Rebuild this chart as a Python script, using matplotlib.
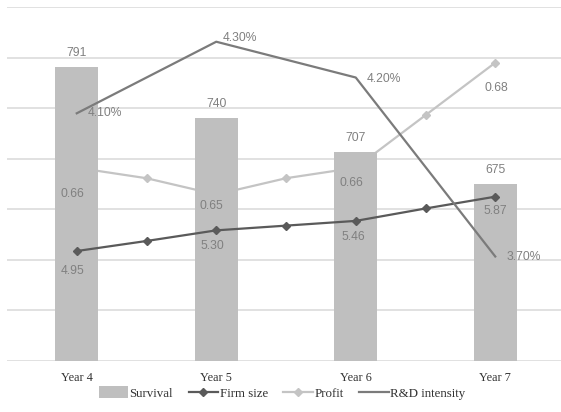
import numpy as np
import matplotlib
matplotlib.use("Agg")
from matplotlib import pyplot as plt

years = ["Year 4", "Year 5", "Year 6", "Year 7"]
survival = [791, 740, 707, 675]

# line series carry an extra point between each pair of years
firm_size = [4.95, 5.12, 5.30, 5.38, 5.46, 5.67, 5.87]
profit = [0.660, 0.658, 0.6549, 0.658, 0.660, 0.670, 0.680]
rd_intensity = [4.10, 4.30, 4.20, 3.70]

BAR = "#bfbfbf"
FIRM = "#5a5a5a"
PROF = "#c4c4c4"
RD = "#7b7b7b"
LABEL = "#808080"
GRID = "#dcdcdc"

serif = "Liberation Serif"
sans = "Liberation Sans"

fig = plt.figure(figsize=(5.61, 4.12), dpi=100)
pos = [7 / 561, 51 / 412, 558 / 561, 354 / 412]
ax = fig.add_axes(pos)

x = np.arange(len(years))
xl = np.arange(len(firm_size)) / 2.0


def overlay(lo, hi):
    a = ax.twinx()
    a.set_ylim(lo, hi)
    a.set_axis_off()
    return a


# profit sits underneath the bars, the other lines on top
ax_p = overlay(0.6232, 0.6906)
ax_b = overlay(500, 850)
ax_f = overlay(3.089, 9.08)
ax_r = overlay(3.408, 4.397)

# base axes: grid + category labels
ax.set_xlim(-0.5, 3.5)
ax.set_ylim(500, 850)
ax.set_yticks(np.arange(500, 851, 50))
ax.yaxis.grid(True, color=GRID, linewidth=1.2)
ax.set_axisbelow(True)
ax.tick_params(axis="y", left=False, right=False, labelleft=False, labelright=False)
ax.set_xticks(x)
ax.set_xticklabels(years, fontfamily=serif, fontsize=8.8, color="#333333")
ax.tick_params(axis="x", length=0, pad=8)
for s in ax.spines.values():
    s.set_visible(False)

ax_p.plot(xl, profit, color=PROF, lw=1.6, marker="D", ms=4, label="Profit")

bars = ax_b.bar(x, survival, width=0.31, color=BAR, label="Survival")
ax_f.plot(xl, firm_size, color=FIRM, lw=1.6, marker="D", ms=4.5, label="Firm size")
ax_r.plot(x, rd_intensity, color=RD, lw=1.6, label="R&D intensity")

# data labels, all drawn on the top layer
txt = dict(textcoords="offset pixels", ha="center", va="center",
           fontfamily=sans, fontsize=8.7, color=LABEL)

for xi, v in zip(x, survival):
    ax_r.annotate(f"{v}", (xi, v), xycoords=ax_b.transData, xytext=(0, 14), **txt)

firm_off = [(-4, -20), (-4, -16), (-2, -16), (0, -14)]
for (dx, dy), xi, v in zip(firm_off, x, firm_size[::2]):
    ax_r.annotate(f"{v:.2f}", (xi, v), xycoords=ax_f.transData, xytext=(dx, dy), **txt)

prof_off = [(-4, -26), (-5, -11), (-4, -15), (1, -25)]
for (dx, dy), xi, v in zip(prof_off, x, profit[::2]):
    ax_r.annotate(f"{v:.2f}", (xi, v), xycoords=ax_p.transData, xytext=(dx, dy), **txt)

rd_off = [(11, 0), (6, 4), (11, -1), (11, -1)]
for (dx, dy), xi, v in zip(rd_off, x, rd_intensity):
    ax_r.annotate(f"{v:.2f}%", (xi, v), xytext=(dx, dy),
                  **{**txt, "ha": "left"})

handles = [bars]
for a in (ax_f, ax_p, ax_r):
    handles += a.get_lines()[:1]
fig.legend(handles, [h.get_label() for h in handles], loc="center",
           bbox_to_anchor=(282 / 561, 19 / 412), ncol=4, frameon=False,
           prop={"family": serif, "size": 9.3}, handlelength=2.3, handleheight=1.0,
           handletextpad=0.1, columnspacing=1.2, labelcolor="#333333")

plt.savefig("out.png", dpi=100)
plt.close()
